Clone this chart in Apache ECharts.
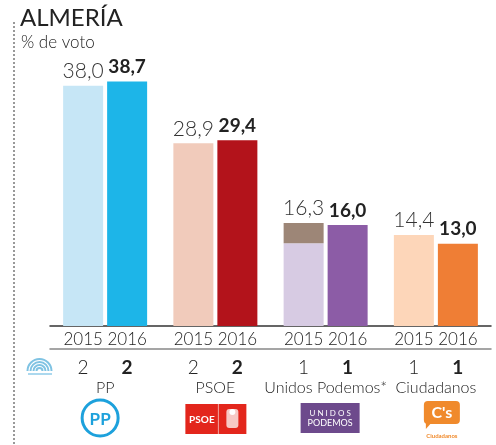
<!DOCTYPE html>
<html>
<head>
<meta charset="utf-8">
<script src="https://cdn.jsdelivr.net/npm/echarts@6/dist/echarts.min.js"></script>
<style>
html,body{margin:0;padding:0;background:#fff;}
#main{width:496px;height:445px;}
</style>
</head>
<body>
<div id="main"></div>
<script>
// ---- data ----
var parties = ['PP', 'PSOE', 'Unidos Podemos*', 'Ciudadanos'];
var years = ['2015', '2016'];
var votes2015 = [38.0, 28.9, 16.3, 14.4];
var iuPart2015 = [0, 0, 3.2, 0];          // extra segment (IU) of Podemos 2015 bar
var votes2016 = [38.7, 29.4, 16.0, 13.0];
var seats2015 = [2, 2, 1, 1];
var seats2016 = [2, 2, 1, 1];

var colors2015 = ['#c6e6f6', '#f1cbbb', '#d7cbe3', '#fdd6b9'];
var colorIu2015 = '#9d8677';
var colors2016 = ['#1db5e8', '#b3131b', '#8c5ca6', '#ef7e35'];

function fmt(v) { return v.toFixed(1).replace('.', ','); }

var FONT = 'Lato, "Open Sans", sans-serif';

var chart = echarts.init(document.getElementById('main'), null, {renderer: 'canvas'});

var baseData = votes2015.map(function (v, i) {
  var hasTop = iuPart2015[i] > 0;
  return {
    value: +(v - iuPart2015[i]).toFixed(1),
    itemStyle: {color: colors2015[i]},
    label: {show: !hasTop}
  };
});
var iuData = iuPart2015.map(function (v, i) {
  return {
    value: v > 0 ? v : '-',
    itemStyle: {color: colorIu2015},
    label: {show: v > 0}
  };
});
var data2016 = votes2016.map(function (v, i) {
  return {value: v, itemStyle: {color: colors2016[i]}};
});

var label2015 = {
  position: 'top',
  distance: 4,
  fontFamily: FONT,
  fontSize: 21,
  fontWeight: 300,
  color: '#333',
  formatter: function (p) { return fmt(votes2015[p.dataIndex]); }
};

var option = {
  animation: false,
  grid: {left: 50, right: 5, top: 73.2, bottom: 119},
  xAxis: [{
    type: 'category',
    data: parties,
    position: 'bottom',
    axisLine: {lineStyle: {color: '#333', width: 1.5}},
    axisTick: {show: false},
    axisLabel: {
      margin: 5,
      interval: 0,
      formatter: function () { return '{a|' + years[0] + '}{b|' + years[1] + '}'; },
      rich: {
        a: {width: 44, align: 'center', fontFamily: FONT, fontSize: 17, fontWeight: 300, color: '#222'},
        b: {width: 44, align: 'center', fontFamily: FONT, fontSize: 17, fontWeight: 300, color: '#222'}
      }
    }
  }, {
    type: 'category',
    data: parties,
    position: 'bottom',
    offset: 23,
    axisLine: {lineStyle: {color: '#888', width: 1.5}},
    axisTick: {show: false},
    axisLabel: {
      margin: 9,
      interval: 0,
      formatter: function (val, idx) {
        return '{n|' + seats2015[idx] + '}{nb|' + seats2016[idx] + '}\n{p|' + val + '}';
      },
      rich: {
        n: {width: 44, align: 'center', fontFamily: FONT, fontSize: 19, fontWeight: 300, color: '#222', lineHeight: 20},
        nb: {width: 44, align: 'center', fontFamily: FONT, fontSize: 19, fontWeight: 'bold', color: '#222', lineHeight: 20},
        p: {fontFamily: FONT, fontSize: 16, fontWeight: 300, color: '#222', lineHeight: 20}
      }
    }
  }],
  yAxis: {type: 'value', min: 0, max: 40, show: false, splitLine: {show: false}},
  series: [{
    name: '2015',
    type: 'bar',
    stack: 'y2015',
    barWidth: 40,
    barGap: '10%',
    data: baseData,
    label: label2015
  }, {
    name: '2015 IU',
    type: 'bar',
    stack: 'y2015',
    barWidth: 40,
    barGap: '10%',
    data: iuData,
    label: label2015
  }, {
    name: '2016',
    type: 'bar',
    barWidth: 40,
    barGap: '10%',
    data: data2016,
    label: {
      show: true,
      position: 'top',
      distance: 5,
      fontFamily: FONT,
      fontSize: 19,
      fontWeight: 'bold',
      color: '#222',
      formatter: function (p) { return fmt(p.value); }
    }
  }]
};
chart.setOption(option);

// ---- decorations: title, dotted rule, parliament icon, party logos ----
function cx(i) { return chart.convertToPixel({xAxisIndex: 0}, parties[i]); }

var g = [];
g.push({type: 'line', shape: {x1: 14, y1: 22, x2: 14, y2: 445},
  style: {stroke: '#999', lineWidth: 2, lineDash: [2, 2]}});
g.push({type: 'text', left: 20, top: 6,
  style: {text: 'ALMERÍA', font: '400 24px ' + FONT, fill: '#222'}});
g.push({type: 'text', left: 21, top: 34,
  style: {text: '% de voto', font: '300 17px ' + FONT, fill: '#222'}});

// parliament icon
var arcs = [];
for (var r = 3; r <= 12; r += 3) {
  arcs.push({type: 'arc', shape: {cx: 39.5, cy: 371, r: r, startAngle: Math.PI, endAngle: 2 * Math.PI},
    style: {stroke: '#7fc3e3', lineWidth: 2, fill: null}});
}
arcs.push({type: 'line', shape: {x1: 28, y1: 374, x2: 52, y2: 374}, style: {stroke: '#8fcbe8', lineWidth: 1.5}});
g.push({type: 'group', children: arcs});

// PP logo
var ppx = cx(0) - 5;
g.push({type: 'circle', shape: {cx: ppx, cy: 418, r: 18}, style: {fill: '#fff', stroke: '#1da1dc', lineWidth: 3}});
g.push({type: 'text', x: ppx, y: 420, style: {text: 'PP', font: 'bold 17px ' + FONT, fill: '#1da1dc', align: 'center', verticalAlign: 'middle'}});

// PSOE logo
var psx = cx(1) - 30;
g.push({type: 'rect', shape: {x: psx, y: 404, width: 61, height: 30}, style: {fill: '#e3261c'}});
g.push({type: 'line', shape: {x1: psx + 33, y1: 404, x2: psx + 33, y2: 434}, style: {stroke: '#f3a6a0', lineWidth: 1}});
g.push({type: 'text', x: psx + 16.5, y: 420, style: {text: 'PSOE', font: 'bold 10px ' + FONT, fill: '#fff', align: 'center', verticalAlign: 'middle'}});
g.push({type: 'rect', shape: {x: psx + 41, y: 409, width: 12, height: 19, r: 3}, style: {fill: '#f7c9c5'}});
g.push({type: 'circle', shape: {cx: psx + 47, cy: 412, r: 3}, style: {fill: '#fff'}});

// Unidos Podemos logo
var upx = cx(2) - 25;
g.push({type: 'rect', shape: {x: upx, y: 403, width: 59, height: 30}, style: {fill: '#6d4a8c'}});
g.push({type: 'text', x: upx + 29.5, y: 413, style: {text: 'U N I D O S', font: '8px ' + FONT, fill: '#fff', align: 'center', verticalAlign: 'middle'}});
g.push({type: 'text', x: upx + 29.5, y: 423, style: {text: 'PODEMOS', font: '9px ' + FONT, fill: '#fff', align: 'center', verticalAlign: 'middle'}});

// Ciudadanos logo
var csx = cx(3) - 12;
g.push({type: 'rect', shape: {x: csx, y: 401, width: 36, height: 23, r: 4}, style: {fill: '#f08a2c'}});
g.push({type: 'polygon', shape: {points: [[csx + 2, 420], [csx + 10, 420], [csx + 2, 429]]}, style: {fill: '#f08a2c'}});
g.push({type: 'text', x: csx + 18, y: 412.5, style: {text: "C's", font: 'bold 16px ' + FONT, fill: '#fff', align: 'center', verticalAlign: 'middle'}});
g.push({type: 'text', x: csx + 18, y: 436, style: {text: 'Ciudadanos', font: 'bold 6px ' + FONT, fill: '#f08a2c', align: 'center', verticalAlign: 'middle'}});

chart.setOption({graphic: g});
</script>
</body>
</html>
